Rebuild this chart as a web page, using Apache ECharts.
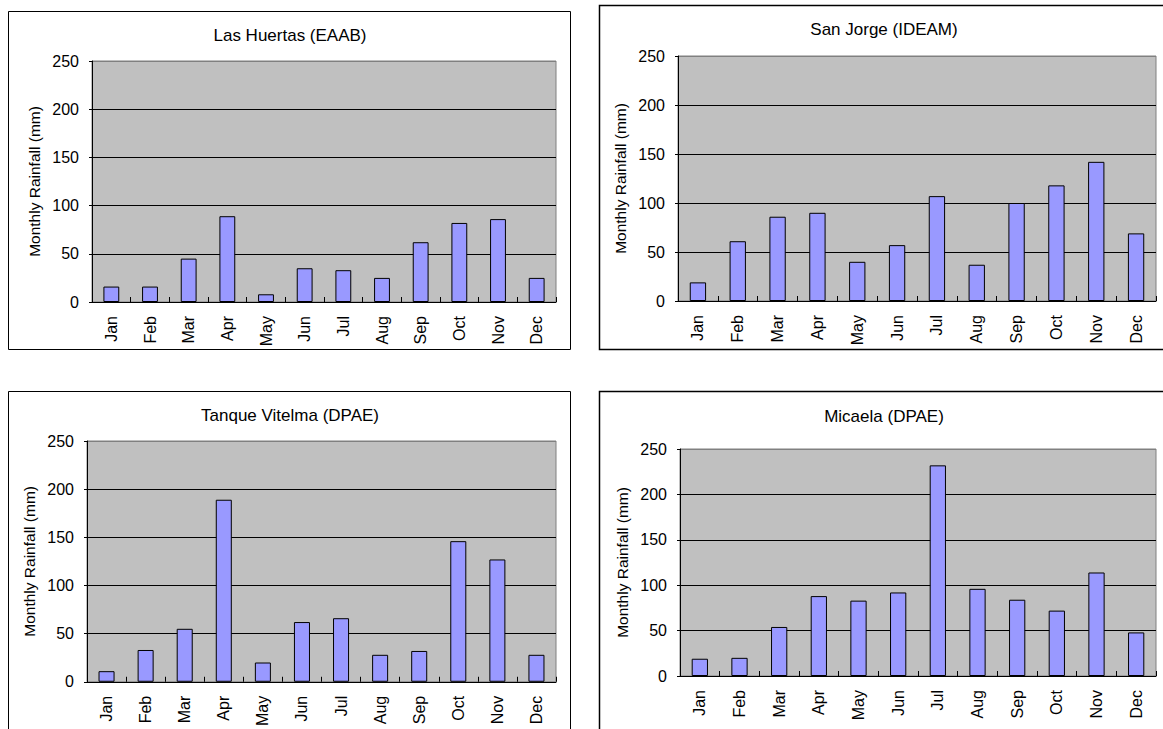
<!DOCTYPE html>
<html>
<head>
<meta charset="utf-8">
<script src="https://cdn.jsdelivr.net/npm/echarts@6/dist/echarts.min.js"></script>
<style>
  html, body { margin: 0; padding: 0; background: #ffffff; }
  #chart { width: 1163px; height: 729px; }
</style>
</head>
<body>
<div id="chart"></div>
<script>
// ---- data ----
const months = ['Jan', 'Feb', 'Mar', 'Apr', 'May', 'Jun', 'Jul', 'Aug', 'Sep', 'Oct', 'Nov', 'Dec'];
const stationNames = ['Las Huertas (EAAB)', 'San Jorge (IDEAM)', 'Tanque Vitelma (DPAE)', 'Micaela (DPAE)'];
const lasHuertas = [16, 16, 45, 89, 8, 35, 33, 25, 62, 82, 86, 25];
const sanJorge = [19, 61, 86, 90, 40, 57, 107, 37, 100, 118, 142, 69];
const tanqueVitelma = [11, 33, 55, 189, 20, 62, 66, 28, 32, 146, 127, 28];
const micaela = [19, 20, 54, 88, 83, 92, 232, 96, 84, 72, 114, 48];
const yAxisName = 'Monthly Rainfall (mm)';
const yMin = 0, yMax = 250, yStep = 50;

// ---- layout (styles only) ----
const FONT = "'Liberation Sans', Arial, sans-serif";
const panels = [
  { box: [8.5, 11.5, 562, 338], grid: { left: 92, top: 61, width: 464, height: 241 }, title: [290, 27], lw: 1 },
  { box: [599.5, 5.5, 580, 344], grid: { left: 678, top: 56, width: 478, height: 245 }, title: [884, 21], lw: 1.5 },
  { box: [8.5, 391.5, 562, 360], grid: { left: 87, top: 441, width: 469, height: 241 }, title: [290, 407], lw: 1 },
  { box: [599.5, 391.5, 580, 360], grid: { left: 680, top: 449, width: 476, height: 227 }, title: [884, 408], lw: 1.5 }
];
const seriesData = [lasHuertas, sanJorge, tanqueVitelma, micaela];

const grids = [], xAxes = [], yAxes = [], series = [], titles = [], graphics = [];
panels.forEach((p, i) => {
  graphics.push({
    type: 'rect', silent: true, z: -10,
    shape: { x: p.box[0], y: p.box[1], width: p.box[2], height: p.box[3] },
    style: { fill: '#ffffff', stroke: '#000000', lineWidth: p.lw }
  });
  titles.push({
    text: stationNames[i],
    left: p.title[0], top: p.title[1], textAlign: 'center', padding: 0,
    textStyle: { fontFamily: FONT, fontSize: 17, fontWeight: 'normal', color: '#000' }
  });
  grids.push(Object.assign({
    show: true, backgroundColor: '#C0C0C0', borderColor: '#808080', borderWidth: 1
  }, p.grid));
  xAxes.push({
    type: 'category', gridIndex: i, data: months,
    axisLine: { show: true, lineStyle: { color: '#000', width: 1 } },
    axisTick: { show: true, inside: true, length: 5, lineStyle: { color: '#000' } },
    axisLabel: { rotate: 90, margin: 14, color: '#000', fontFamily: FONT, fontSize: 16 },
    splitLine: { show: false }
  });
  yAxes.push({
    type: 'value', gridIndex: i, min: yMin, max: yMax, interval: yStep,
    name: yAxisName, nameLocation: 'middle', nameGap: 50, nameRotate: 90,
    nameTextStyle: { color: '#000', fontFamily: FONT, fontSize: 15.5 },
    axisLine: { show: true, lineStyle: { color: '#000', width: 1 } },
    axisTick: { show: true, length: 3, lineStyle: { color: '#000' } },
    axisLabel: { margin: 13, color: '#000', fontFamily: FONT, fontSize: 16 },
    splitLine: { show: true, lineStyle: { color: ['#000', '#000', '#000', '#000', '#000', '#808080'], width: 1 } }
  });
  series.push({
    type: 'bar', xAxisIndex: i, yAxisIndex: i, data: seriesData[i],
    barWidth: '41%',
    itemStyle: { color: '#9999FF', borderColor: '#000', borderWidth: 1 },
    emphasis: { disabled: true }
  });
});

const chart = echarts.init(document.getElementById('chart'), null, { renderer: 'svg' });
chart.setOption({
  animation: false,
  backgroundColor: '#ffffff',
  title: titles,
  grid: grids,
  xAxis: xAxes,
  yAxis: yAxes,
  series: series,
  graphic: graphics
});
</script>
</body>
</html>
